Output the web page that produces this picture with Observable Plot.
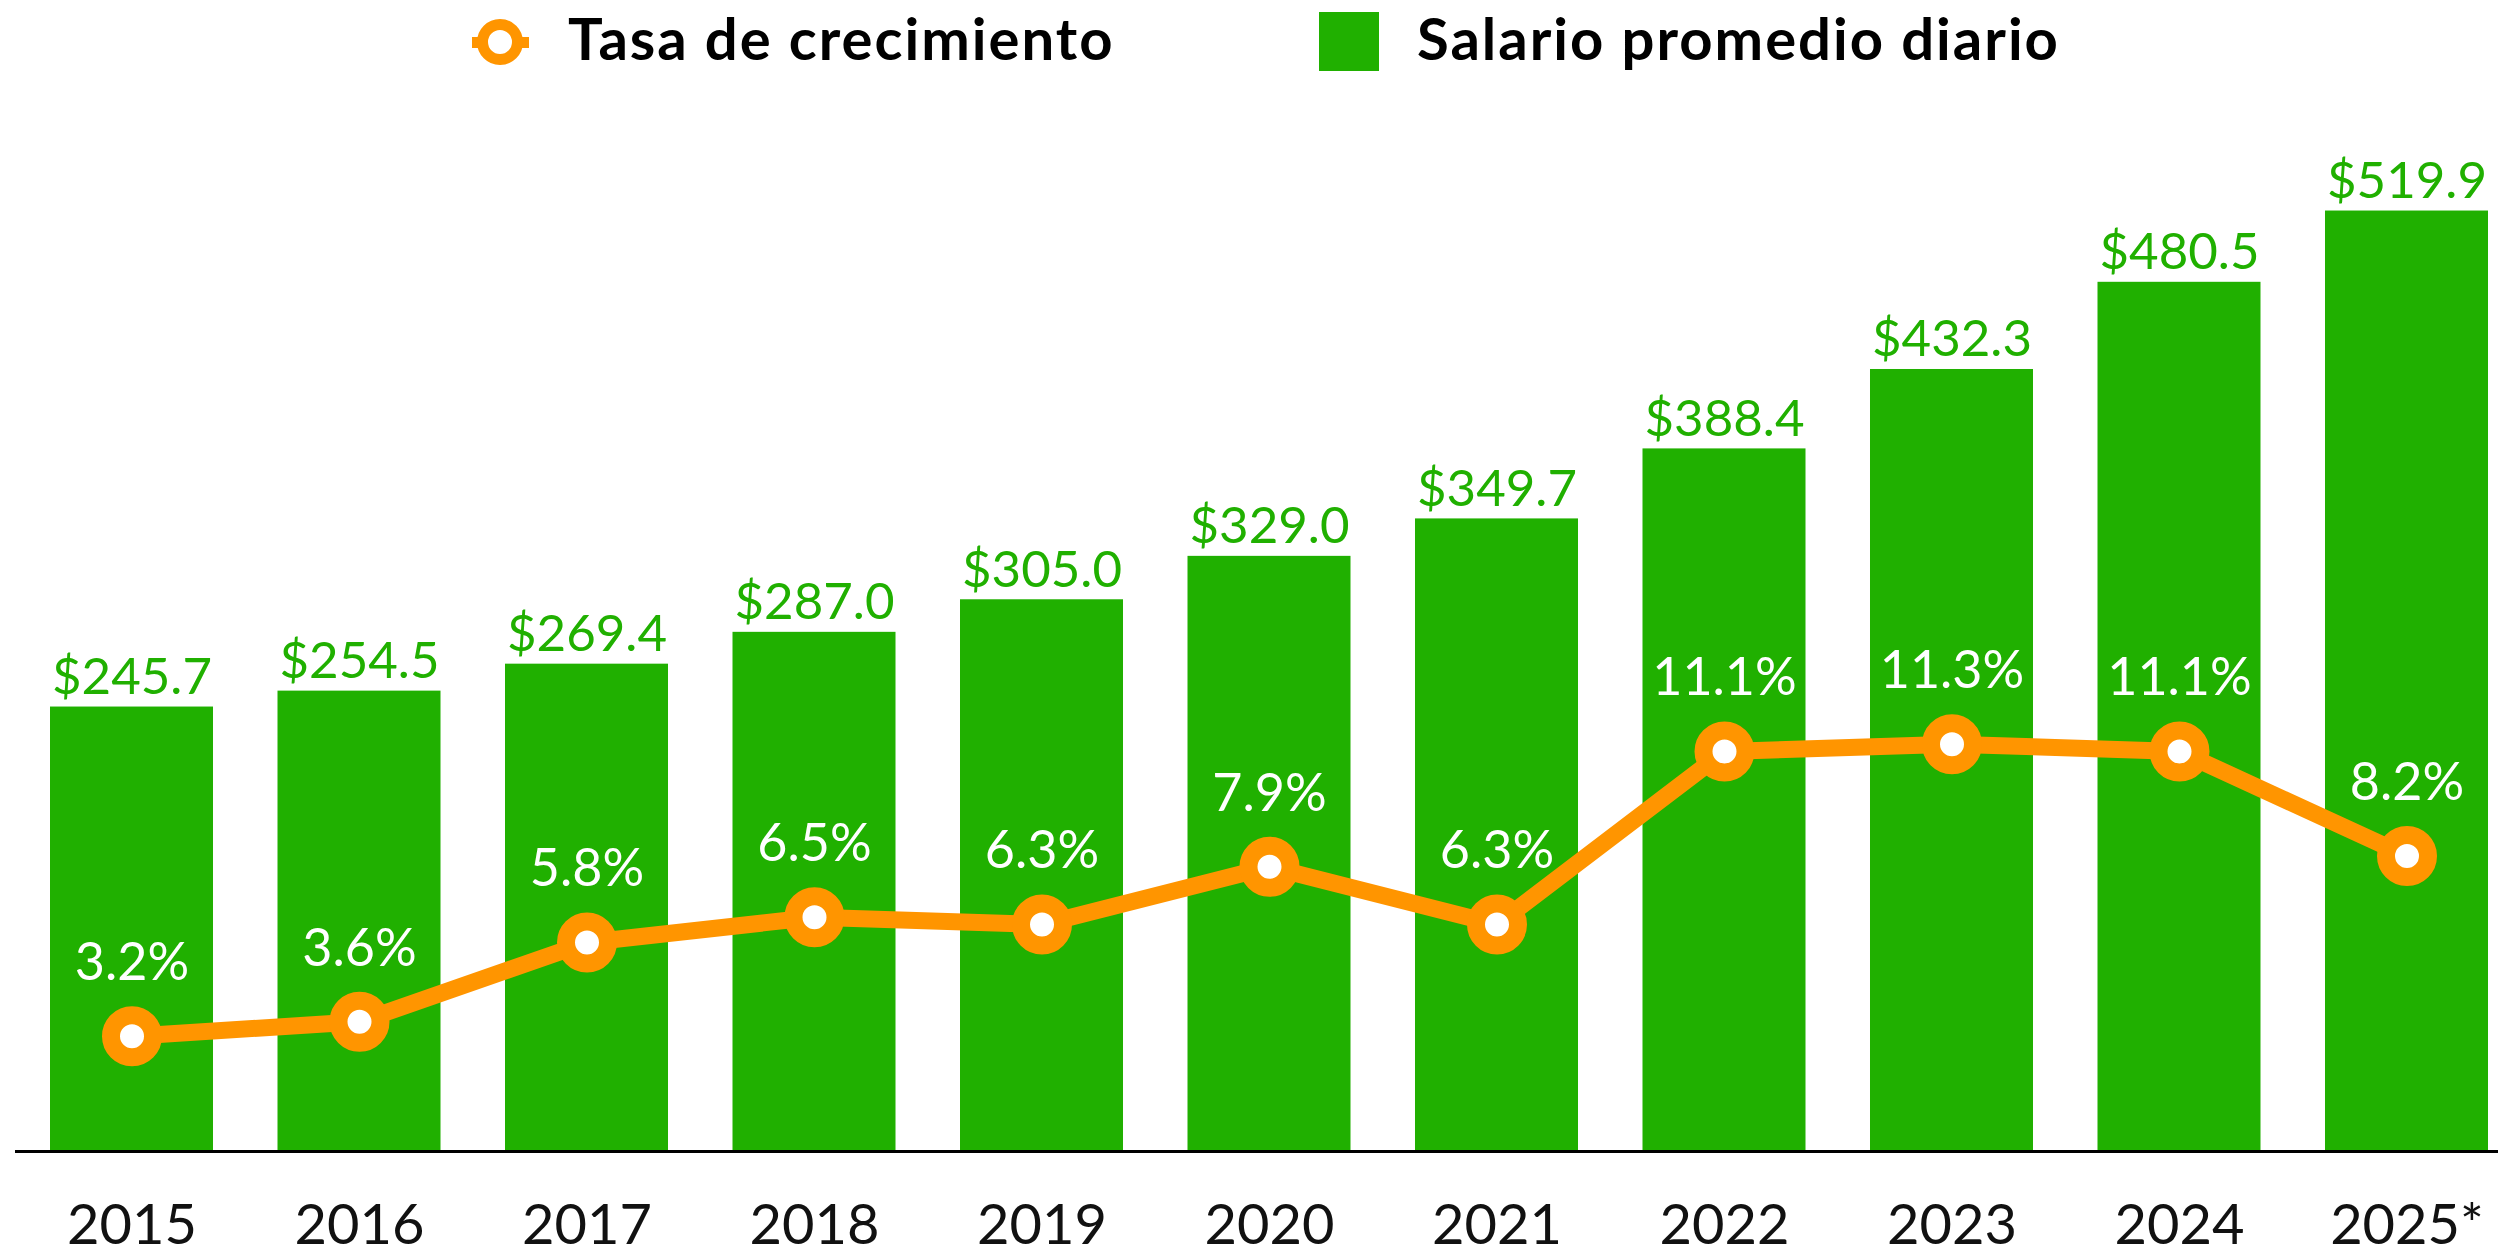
<!DOCTYPE html>
<html>
<head>
<meta charset="utf-8">
<script src="https://cdn.jsdelivr.net/npm/d3@7"></script>
<script src="https://cdn.jsdelivr.net/npm/@observablehq/plot@0.6"></script>
<style>
  html, body { margin: 0; padding: 0; background: #fff; }
  #legend { position: relative; width: 2498px; height: 100px; font-family: Lato, "Open Sans", sans-serif; font-weight: 700; font-size: 58px; letter-spacing: 2px; color: #000; }
  #legend .lbl { position: absolute; line-height: 60px; white-space: nowrap; }
  #legend .stub { position: absolute; background: #FF9500; }
  #legend .ring { position: absolute; box-sizing: border-box; border-radius: 50%; background: #fff; border: 11px solid #FF9500; }
  #legend .sq { position: absolute; background: #20B000; }
  #chart { position: relative; width: 2498px; height: 1153px; color: #000; }
  #chart svg { position: absolute; top: 0; left: 0; }
</style>
</head>
<body>
<div id="legend">
  <div class="stub" style="left:472px; top:37px; width:57px; height:11px;"></div>
  <div class="ring" style="left:477px; top:19px; width:46px; height:46px;"></div>
  <div class="lbl" style="left:568px; top:8px;">Tasa de crecimiento</div>
  <div class="sq" style="left:1319px; top:12px; width:60px; height:59px;"></div>
  <div class="lbl" style="left:1417px; top:8px;">Salario promedio diario</div>
</div>
<div id="chart"></div>
<script>
const years = ["2015", "2016", "2017", "2018", "2019", "2020", "2021", "2022", "2023", "2024", "2025*"];
const salario = [245.7, 254.5, 269.4, 287.0, 305.0, 329.0, 349.7, 388.4, 432.3, 480.5, 519.9];
const tasa = [3.2, 3.6, 5.8, 6.5, 6.3, 7.9, 6.3, 11.1, 11.3, 11.1, 8.2];

const GREEN = "#20B000";
const ORANGE = "#FF9500";

const data = years.map((y, i) => ({year: y, salario: salario[i], tasa: tasa[i]}));

const W = 2498, H = 1153, MB = 102, MT = 0;
const xScale = {type: "band", domain: years, range: [50, 2488], paddingInner: 0.2835, paddingOuter: 0, align: 0.5, round: false};
const common = {width: W, height: H, marginLeft: 15, marginRight: 0, marginTop: MT, marginBottom: MB,
  style: {fontFamily: "Lato, 'Open Sans', sans-serif", background: "transparent", overflow: "visible"}};

const bars = Plot.plot({
  ...common,
  x: {...xScale, label: null},
  y: {domain: [0, 581], axis: null},
  marks: [
    Plot.barY(data, {x: "year", y: "salario", fill: GREEN}),
    Plot.ruleY([0], {stroke: "#000", strokeWidth: 3}),
    Plot.text(data, {x: "year", y: "salario", text: d => "$" + d.salario.toFixed(1), dy: -13, lineAnchor: "bottom", fill: GREEN, fontSize: 51}),
    Plot.axisX({tickSize: 0, tickPadding: 53, fontSize: 56, fill: "#111", label: null})
  ]
});

const line = Plot.plot({
  ...common,
  x: {...xScale, axis: null},
  y: {domain: [0, 29.16], axis: null},
  marks: [
    Plot.line(data, {x: "year", y: "tasa", stroke: ORANGE, strokeWidth: 17, strokeLinejoin: "round"}),
    Plot.dot(data, {x: "year", y: "tasa", r: 21, fill: "#fff", stroke: ORANGE, strokeWidth: 18}),
    Plot.text(data, {x: "year", y: "tasa", text: d => d.tasa.toFixed(1) + "%", dy: -56, lineAnchor: "bottom", fill: "#fff", fontSize: 52})
  ]
});

const chart = document.getElementById("chart");
chart.appendChild(bars);
chart.appendChild(line);
</script>
</body>
</html>
